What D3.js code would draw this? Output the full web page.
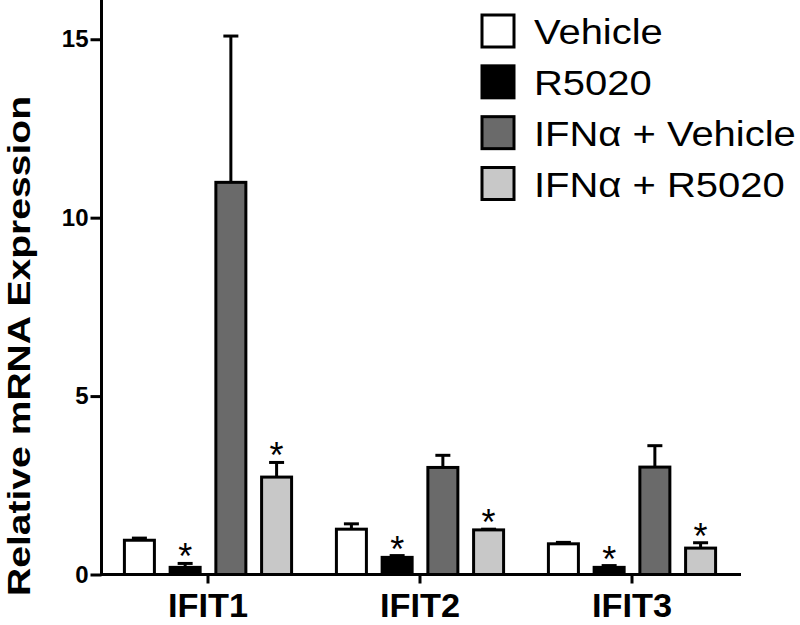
<!DOCTYPE html>
<html>
<head>
<meta charset="utf-8">
<script src="https://cdn.jsdelivr.net/npm/d3@7"></script>
<style>
  html, body { margin: 0; padding: 0; background: #fff; }
  svg { display: block; font-family: "Liberation Sans", Arial, Helvetica, sans-serif; }
</style>
</head>
<body>
<svg id="chart" width="800" height="625"></svg>
<script>
// ---- data ----
const genes = ["IFIT1", "IFIT2", "IFIT3"];
const series = ["Vehicle", "R5020", "IFNα + Vehicle", "IFNα + R5020"];
const vehicle      = [0.96, 1.27, 0.86];
const r5020        = [0.20, 0.48, 0.20];
const ifnVehicle   = [10.99, 3.00, 3.01];
const ifnR5020     = [2.73, 1.25, 0.74];
const vehicleErr    = [0.06, 0.15, 0.04];
const r5020Err      = [0.11, 0.05, 0.05];
const ifnVehicleErr = [4.10, 0.34, 0.60];
const ifnR5020Err   = [0.41, 0.02, 0.15];
const significant   = [false, true, false, true]; // stars over R5020 and IFNα + R5020
const yTicks = [0, 5, 10, 15];
const colors = ["#ffffff", "#000000", "#6a6a6a", "#c8c8c8"];

const values = [vehicle, r5020, ifnVehicle, ifnR5020];
const errors = [vehicleErr, r5020Err, ifnVehicleErr, ifnR5020Err];

const rows = [];
genes.forEach((g, gi) => {
  series.forEach((s, si) => {
    rows.push({ gene: g, series: s, si, value: values[si][gi], err: errors[si][gi], star: significant[si] });
  });
});

// ---- layout ----
const svg = d3.select("#chart");
const x0 = d3.scaleBand().domain(genes).range([102, 738]).paddingInner(0).paddingOuter(0);
const x1 = d3.scaleBand().domain(series).range([0, x0.bandwidth()]).paddingInner(0.344).paddingOuter(0.49);
const y = d3.scaleLinear().domain([0, 16.1]).range([574.5, 0]);

const black = "#000";

// bars
const g = svg.append("g");
g.selectAll("rect.bar").data(rows).join("rect")
  .attr("class", "bar")
  .attr("x", d => x0(d.gene) + x1(d.series))
  .attr("width", x1.bandwidth())
  .attr("y", d => y(d.value))
  .attr("height", d => y(0) - y(d.value))
  .attr("fill", d => colors[d.si])
  .attr("stroke", black)
  .attr("stroke-width", 3);

// error bars (upper only)
const capW = 15;
g.selectAll("line.err").data(rows).join("line")
  .attr("class", "err")
  .attr("x1", d => x0(d.gene) + x1(d.series) + x1.bandwidth() / 2)
  .attr("x2", d => x0(d.gene) + x1(d.series) + x1.bandwidth() / 2)
  .attr("y1", d => y(d.value))
  .attr("y2", d => y(d.value + d.err))
  .attr("stroke", black).attr("stroke-width", 3);
g.selectAll("line.cap").data(rows).join("line")
  .attr("class", "cap")
  .attr("x1", d => x0(d.gene) + x1(d.series) + x1.bandwidth() / 2 - capW / 2)
  .attr("x2", d => x0(d.gene) + x1(d.series) + x1.bandwidth() / 2 + capW / 2)
  .attr("y1", d => y(d.value + d.err))
  .attr("y2", d => y(d.value + d.err))
  .attr("stroke", black).attr("stroke-width", 3);

// stars
g.selectAll("text.star").data(rows.filter(d => d.star)).join("text")
  .attr("class", "star")
  .attr("x", d => x0(d.gene) + x1(d.series) + x1.bandwidth() / 2)
  .attr("y", d => y(d.value + d.err) + 6)
  .attr("text-anchor", "middle")
  .attr("font-size", 36)
  .text("*");

// y axis
const yAxis = d3.axisLeft(y).tickValues(yTicks).tickSize(11).tickPadding(2).tickFormat(d3.format("d"));
const ya = svg.append("g").attr("transform", "translate(101.5,0)").call(yAxis);
ya.select(".domain").attr("d", `M0,0V${y(0) + 1.5}`).attr("stroke", black).attr("stroke-width", 3);
ya.selectAll(".tick line").attr("stroke", black).attr("stroke-width", 3);
ya.selectAll(".tick text").attr("font-size", 24).attr("font-weight", "bold")
  .attr("font-family", "'Liberation Sans', Arial, sans-serif").attr("fill", black);

// x axis
const xAxis = d3.axisBottom(x0).tickSize(9).tickPadding(10);
const xa = svg.append("g").attr("transform", `translate(0,${y(0)})`).call(xAxis);
xa.select(".domain").attr("d", "M100,0H741").attr("stroke", black).attr("stroke-width", 3);
xa.selectAll(".tick line").attr("stroke", black).attr("stroke-width", 3);
xa.selectAll(".tick text").attr("font-size", 33).attr("font-weight", "bold")
  .attr("font-family", "'Liberation Sans', Arial, sans-serif").attr("fill", black)
  .attr("dy", "0.71em")
  .attr("transform", "scale(1.04,1)");

// y label
svg.append("text")
  .attr("transform", "translate(29.5,346) rotate(-90)")
  .attr("text-anchor", "middle")
  .attr("font-size", 32)
  .attr("font-weight", "bold")
  .attr("textLength", 500)
  .attr("lengthAdjust", "spacingAndGlyphs")
  .text("Relative mRNA Expression");

// legend
const legendY = d3.scalePoint().domain(series).range([31, 183.5]);
const lg = svg.append("g");
lg.selectAll("rect").data(series).join("rect")
  .attr("x", 482).attr("width", 32)
  .attr("y", d => legendY(d) - 16).attr("height", 32)
  .attr("fill", (d, i) => colors[i])
  .attr("stroke", black).attr("stroke-width", 3);
lg.selectAll("text").data(series).join("text")
  .attr("transform", d => `translate(534,${legendY(d) + 13}) scale(1.11,1)`)
  .attr("font-size", 36)
  .text(d => d);
</script>
</body>
</html>
